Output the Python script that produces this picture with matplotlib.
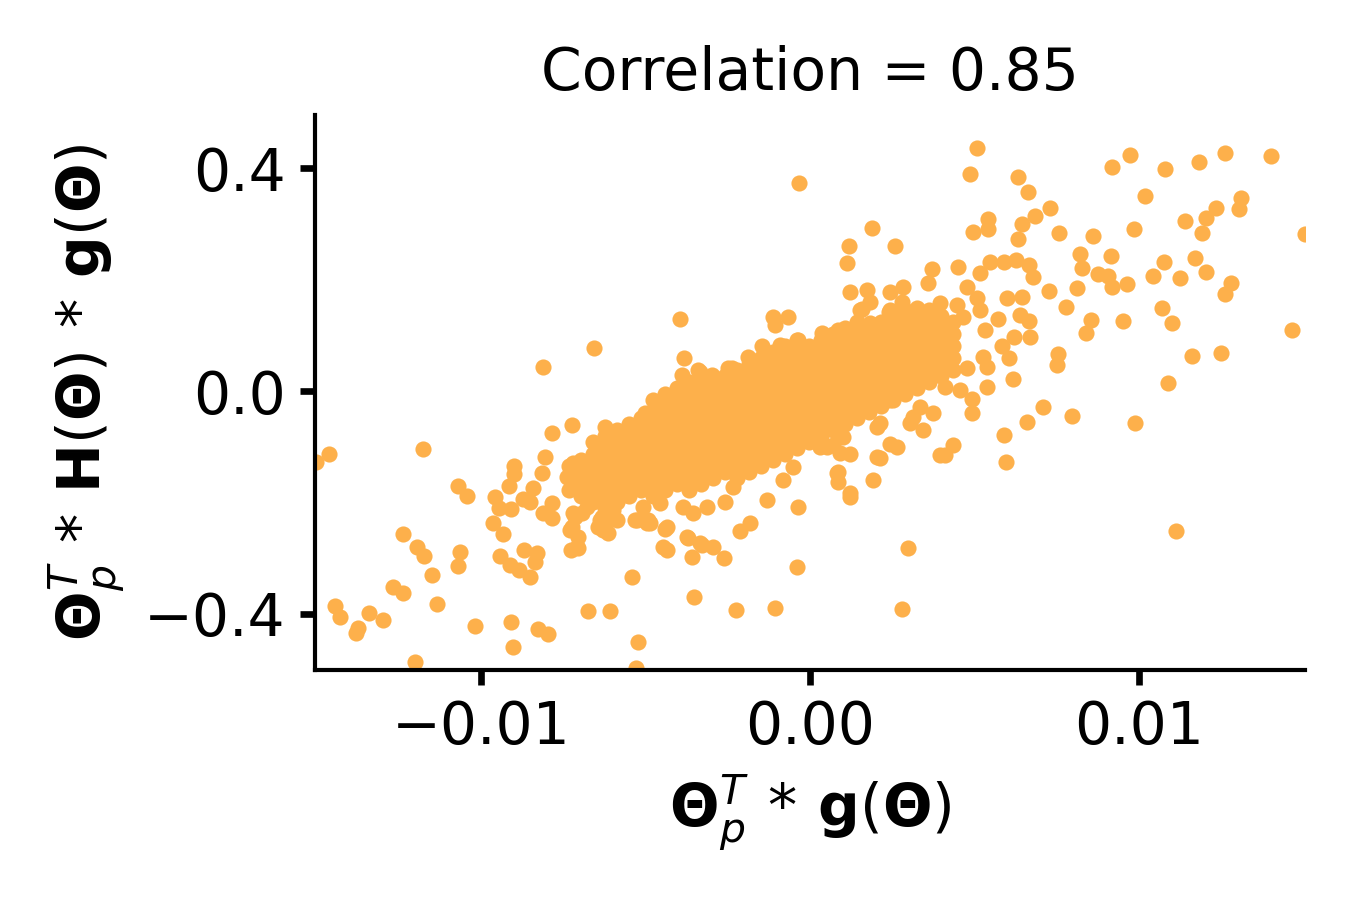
import numpy as np
import matplotlib.pyplot as plt

# scattered points around the cloud
outer_x = [
    -0.01502, -0.01462, -0.01176, -0.01070, -0.01043, -0.00900, -0.00900, -0.00915, -0.00957, -0.00945,
    -0.00909, -0.00964, -0.00933, -0.00842, -0.00872, -0.00851, -0.00805, -0.00815, -0.00784, -0.00723,
    -0.00812, -0.00784, -0.00784, -0.01237, -0.01195, -0.01173, -0.01064, -0.01070, -0.01149, -0.01267,
    -0.01237, -0.01134, -0.01444, -0.01429, -0.01340, -0.01298, -0.01374, -0.01380, -0.01018, -0.00909,
    -0.00903, -0.00827, -0.00796, -0.01201, -0.00942, -0.00912, -0.00884, -0.00869, -0.00830, -0.00836,
    -0.00851, -0.00675, -0.00608, -0.00541, -0.00523, -0.00529, -0.00723, -0.00705, -0.00726, -0.00705,
    -0.00623, -0.00568, -0.00502, -0.00705, -0.00675, -0.00644, -0.00593, -0.00644, -0.00614, -0.00623,
    -0.00556, -0.00532, -0.00492, -0.00714, -0.00693, -0.00644, -0.00614, -0.00632, -0.00395, -0.00657,
    -0.00383, -0.00112, -0.00067, 0.00122, 0.00173, 0.00243, 0.00283, 0.00359, 0.00152, 0.00243,
    0.00298, -0.00040, -0.00261, -0.00435, -0.00359, -0.00441, -0.00371, -0.00328, -0.00213, -0.00182,
    -0.00486, -0.00131, -0.00036, -0.00258, 0.00122, 0.00085, 0.00085, 0.00191, 0.00213, 0.00243,
    0.00122, 0.00030, 0.00070, 0.00395, 0.00304, 0.00343, 0.00334, 0.00374, 0.00204, 0.00243,
    0.00508, 0.00486, 0.00632, 0.00663, 0.00729, 0.00684, 0.00541, 0.00541, 0.00495, 0.00644,
    0.00632, 0.00757, 0.00860, 0.00821, 0.00827, 0.00915, 0.00875, 0.00906, 0.00918, 0.00964,
    0.00812, 0.00726, 0.00778, 0.00854, 0.00839, 0.00951, 0.00754, 0.00751, 0.00617, 0.00538,
    0.00708, 0.00796, 0.00660, 0.00590, 0.00988, 0.01088, 0.01161, 0.01249, 0.01070, 0.01100,
    0.01043, 0.01076, 0.01125, 0.01170, 0.01204, 0.01280, 0.01261, 0.01465, 0.01505, 0.00918,
    0.00973, 0.01079, 0.01182, 0.01261, 0.01401, 0.01018, 0.00985, 0.01140, 0.01204, 0.01234,
    0.01191, 0.01310, 0.01304, 0.00258, 0.00371, 0.00450, 0.00517, 0.00547, 0.00590, 0.00626,
    0.00666, 0.00678, 0.00599, 0.00644, 0.00638, 0.00666, 0.00571, 0.00620, 0.00669, 0.00584,
    0.00605, 0.00526, 0.00538, 0.00477, 0.00456, 0.00492, 0.00492, 0.00410, 0.00435, 0.00410,
    0.00280, 0.00240, 0.00477, 0.00508, 0.00517, 0.00465, 0.00532, -0.00033, 0.00188, 0.00119,
    0.00112, -0.00106, 0.00182, 0.00158, -0.00146, -0.00091, -0.00036, 0.00036, 0.00085, 0.00116,
    -0.00188, -0.00237, -0.00340, 0.00182, 0.00243, 0.00325, 0.00395, 0.00447, 0.00596, 0.00280,
    0.01112, -0.00353, -0.00225, -0.00106, -0.00812,
    # ragged edges of the core
    -0.00720, -0.00739, -0.00699, -0.00660, -0.00647, -0.00608, -0.00617, -0.00578, -0.00720, -0.00678,
    -0.00638, -0.00599, -0.00729, -0.00708, -0.00629, -0.00587, -0.00526, -0.00508, -0.00495, -0.00456,
    -0.00435, -0.00386, -0.00356, -0.00313, -0.00447, -0.00374, -0.00334, -0.00295,
    -0.00249, 0.00131, 0.00191, 0.00283, 0.00365, -0.00389, -0.00395, -0.00416, -0.00334, -0.00298,
    -0.00234, -0.00082, -0.00052, 0.00052, 0.00100, 0.00213, 0.00313, 0.00264, 0.00204, 0.00091,
    0.00082, 0.00122,
]
outer_y = [
    -0.127, -0.113, -0.104, -0.170, -0.188, -0.135, -0.149, -0.170, -0.190, -0.210,
    -0.212, -0.237, -0.257, -0.174, -0.194, -0.199, -0.118, -0.147, -0.075, -0.061,
    -0.219, -0.228, -0.201, -0.257, -0.280, -0.296, -0.289, -0.314, -0.330, -0.352,
    -0.362, -0.382, -0.386, -0.405, -0.398, -0.411, -0.425, -0.434, -0.422, -0.414,
    -0.459, -0.427, -0.436, -0.486, -0.296, -0.312, -0.321, -0.285, -0.291, -0.307,
    -0.334, -0.395, -0.395, -0.334, -0.450, -0.497, -0.244, -0.262, -0.285, -0.282,
    -0.065, -0.074, -0.039, -0.133, -0.127, -0.142, -0.142, -0.190, -0.219, -0.237,
    -0.187, -0.231, -0.231, -0.226, -0.219, -0.244, -0.255, -0.226, 0.129, 0.077,
    0.059, 0.133, 0.133, 0.178, 0.181, 0.178, 0.187, 0.194, 0.145, 0.145,
    -0.282, -0.316, -0.300, -0.285, -0.298, -0.248, -0.264, -0.276, -0.251, -0.237,
    -0.237, -0.196, -0.208, -0.199, -0.190, -0.145, -0.163, -0.160, -0.120, -0.095,
    -0.113, -0.100, -0.097, -0.115, -0.057, -0.070, -0.029, -0.039, -0.065, -0.016,
    0.436, 0.389, 0.384, 0.357, 0.328, 0.314, 0.309, 0.291, 0.285, 0.300,
    0.273, 0.283, 0.278, 0.246, 0.221, 0.242, 0.210, 0.206, 0.187, 0.192,
    0.185, 0.179, 0.151, 0.127, 0.104, 0.126, 0.066, 0.047, 0.022, 0.007,
    -0.029, -0.045, -0.056, -0.079, -0.057, 0.014, 0.063, 0.068, 0.149, 0.122,
    0.206, 0.231, 0.203, 0.239, 0.213, 0.194, 0.174, 0.109, 0.282, 0.402,
    0.423, 0.398, 0.411, 0.427, 0.422, 0.350, 0.291, 0.305, 0.310, 0.328,
    0.283, 0.346, 0.326, 0.260, 0.219, 0.222, 0.212, 0.231, 0.231, 0.235,
    0.226, 0.204, 0.167, 0.169, 0.136, 0.126, 0.129, 0.097, 0.097, 0.081,
    0.059, 0.061, 0.043, 0.041, 0.002, -0.014, -0.039, 0.007, -0.097, -0.115,
    0.160, 0.142, 0.187, 0.167, 0.145, 0.133, 0.109, 0.373, 0.292, 0.260,
    0.230, 0.118, 0.160, 0.147, 0.081, 0.083, 0.091, 0.104, 0.109, 0.106,
    0.061, 0.041, 0.038, 0.122, 0.118, 0.149, 0.158, 0.154, -0.127, -0.391,
    -0.251, -0.370, -0.393, -0.389, 0.043,
    # ragged edges of the core
    -0.129, -0.154, -0.178, -0.160, -0.124, -0.129, -0.178, -0.160, -0.219, -0.208,
    -0.231, -0.213, -0.249, -0.280, -0.249, -0.231, -0.231, -0.208, -0.237, -0.201,
    -0.244, -0.208, -0.219, -0.208, -0.280, -0.262, -0.273, -0.280,
    0.041, 0.109, 0.118, 0.118, 0.127, 0.029, 0.002, -0.020, 0.034, 0.029,
    -0.172, -0.160, -0.136, -0.100, -0.083, -0.057, -0.047, -0.100, -0.118, -0.111,
    -0.147, -0.183,
]

# dense core of the cloud: x of each column and the y values stacked in it
core_x = [
    -0.00733, -0.00696, -0.00660, -0.00623, -0.00587, -0.00550, -0.00514, -0.00477, -0.00441, -0.00404,
    -0.00368, -0.00331, -0.00295, -0.00258, -0.00222, -0.00185, -0.00149, -0.00112, -0.00076, -0.00040,
    -0.00003, 0.00033, 0.00070, 0.00106, 0.00143, 0.00179, 0.00216, 0.00252, 0.00289, 0.00325,
    0.00362, 0.00398, 0.00435,
]
core_y = [
    [-0.135, -0.156, -0.178],
    [-0.124, -0.145, -0.167, -0.188],
    [-0.091, -0.113, -0.135, -0.156, -0.178, -0.199],
    [-0.081, -0.102, -0.124, -0.145, -0.167, -0.188, -0.210],
    [-0.070, -0.091, -0.113, -0.135, -0.156, -0.178, -0.199],
    [-0.059, -0.081, -0.102, -0.124, -0.145, -0.167, -0.188],
    [-0.048, -0.070, -0.091, -0.113, -0.135, -0.156, -0.178],
    [-0.016, -0.038, -0.059, -0.081, -0.102, -0.124, -0.145, -0.167, -0.188],
    [-0.005, -0.027, -0.048, -0.070, -0.091, -0.113, -0.135, -0.156, -0.178],
    [0.005, -0.016, -0.038, -0.059, -0.081, -0.102, -0.124, -0.145, -0.167],
    [0.016, -0.005, -0.027, -0.048, -0.070, -0.091, -0.113, -0.135, -0.156, -0.178],
    [0.027, 0.005, -0.016, -0.038, -0.059, -0.081, -0.102, -0.124, -0.145, -0.167],
    [0.016, -0.005, -0.027, -0.048, -0.070, -0.091, -0.113, -0.135, -0.156],
    [0.027, 0.005, -0.016, -0.038, -0.059, -0.081, -0.102, -0.124, -0.145],
    [0.038, 0.016, -0.005, -0.027, -0.048, -0.070, -0.091, -0.113, -0.135, -0.156],
    [0.048, 0.027, 0.005, -0.016, -0.038, -0.059, -0.081, -0.102, -0.124, -0.145],
    [0.059, 0.038, 0.016, -0.005, -0.027, -0.048, -0.070, -0.091, -0.113, -0.135],
    [0.070, 0.048, 0.027, 0.005, -0.016, -0.038, -0.059, -0.081, -0.102, -0.124],
    [0.081, 0.059, 0.038, 0.016, -0.005, -0.027, -0.048, -0.070, -0.091, -0.113],
    [0.091, 0.070, 0.048, 0.027, 0.005, -0.016, -0.038, -0.059, -0.081, -0.102],
    [0.081, 0.059, 0.038, 0.016, -0.005, -0.027, -0.048, -0.070, -0.091],
    [0.091, 0.070, 0.048, 0.027, 0.005, -0.016, -0.038, -0.059, -0.081],
    [0.102, 0.081, 0.059, 0.038, 0.016, -0.005, -0.027, -0.048, -0.070],
    [0.113, 0.091, 0.070, 0.048, 0.027, 0.005, -0.016, -0.038, -0.059],
    [0.124, 0.102, 0.081, 0.059, 0.038, 0.016, -0.005, -0.027, -0.048],
    [0.113, 0.091, 0.070, 0.048, 0.027, 0.005, -0.016, -0.038],
    [0.124, 0.102, 0.081, 0.059, 0.038, 0.016, -0.005, -0.027],
    [0.135, 0.113, 0.091, 0.070, 0.048, 0.027, 0.005, -0.016],
    [0.145, 0.124, 0.102, 0.081, 0.059, 0.038, 0.016, -0.005],
    [0.135, 0.113, 0.091, 0.070, 0.048, 0.027, 0.005],
    [0.145, 0.124, 0.102, 0.081, 0.059, 0.038, 0.016],
    [0.135, 0.113, 0.091, 0.070, 0.048, 0.027],
    [0.124, 0.102, 0.081, 0.059, 0.038],
]

corr = 0.85
dot_color = '#FDB04B'

cx = np.concatenate([np.full(len(ys), x) for x, ys in zip(core_x, core_y)])
cy = np.concatenate([np.array(ys) for ys in core_y])
xs = np.concatenate([cx, np.array(outer_x)])
ys = np.concatenate([cy, np.array(outer_y)])

fig = plt.figure(figsize=(4.5, 3), dpi=300)
ax = fig.add_axes([0.233, 0.256, 0.734, 0.616])
ax.scatter(xs, ys, s=15, color=dot_color, linewidths=0)

ax.set_xlim(-0.01505, 0.01505)
ax.set_ylim(-0.5, 0.495)
ax.set_xticks([-0.01, 0.0, 0.01])
ax.set_xticklabels(['\u22120.01', '0.00', '0.01'])
ax.set_yticks([-0.4, 0.0, 0.4])
ax.set_yticklabels(['\u22120.4', '0.0', '0.4'])
ax.tick_params(labelsize=14, width=1.6, length=3.5)

for side in ['top', 'right']:
    ax.spines[side].set_visible(False)
for side in ['left', 'bottom']:
    ax.spines[side].set_linewidth(1.0)

ax.set_xlabel(r'$\mathbf{\Theta}_p^T\,*\,\mathbf{g}(\mathbf{\Theta})$', fontsize=14, labelpad=4)
ax.set_ylabel(r'$\mathbf{\Theta}_p^T\,*\,\mathbf{H}(\mathbf{\Theta})\,*\,\mathbf{g}(\mathbf{\Theta})$',
              fontsize=14, labelpad=4)
ax.set_title(f'Correlation = {corr:.2f}', fontsize=14)

fig.savefig('out.png', dpi=300)
